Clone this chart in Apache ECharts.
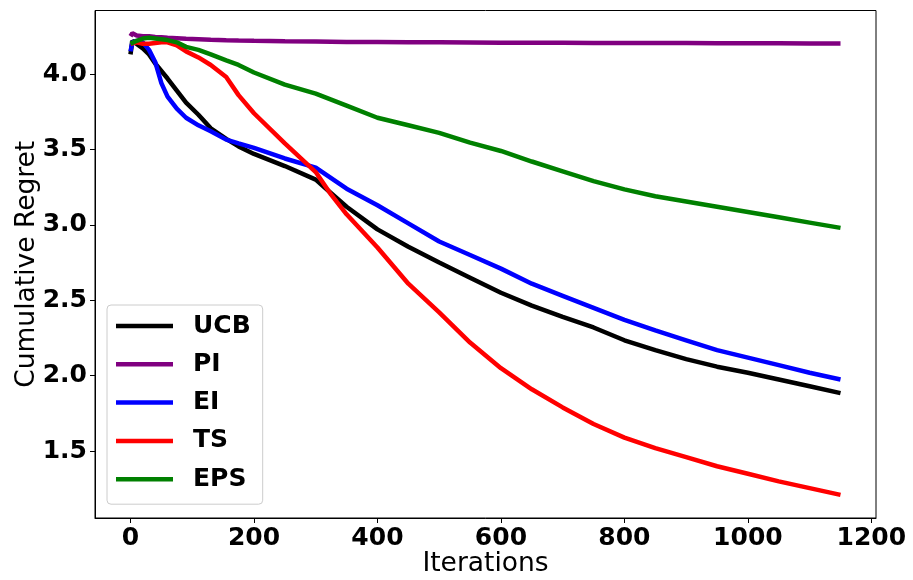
<!DOCTYPE html>
<html>
<head>
<meta charset="utf-8">
<script src="https://cdn.jsdelivr.net/npm/echarts@6/dist/echarts.min.js"></script>
<style>
html, body { margin: 0; padding: 0; background: #fff; }
#view { width: 913px; height: 580px; }
</style>
</head>
<body>
<div id="view"></div>
<script>
// iterations at which the curves were read
var iterations = [0, 3, 10, 20, 30, 40, 50, 60, 75, 90, 110, 130, 155, 175, 200, 250, 300, 325, 350,
    400, 450, 500, 550, 600, 650, 700, 750, 800, 850, 900, 950, 1000, 1050, 1100, 1150];

var ucb = [4.13, 4.22, 4.20, 4.17, 4.13, 4.07, 4.02, 3.97, 3.89, 3.81, 3.73, 3.64, 3.57, 3.52, 3.47, 3.39, 3.30, 3.21, 3.12,
    2.97, 2.855, 2.75, 2.65, 2.55, 2.465, 2.39, 2.32, 2.235, 2.17, 2.11, 2.06, 2.02, 1.975, 1.93, 1.885];
var pi = [4.25, 4.27, 4.255, 4.25, 4.25, 4.245, 4.243, 4.24, 4.237, 4.233, 4.23, 4.227, 4.224, 4.222, 4.22, 4.217, 4.215, 4.214, 4.213,
    4.212, 4.211, 4.21, 4.209, 4.208, 4.207, 4.207, 4.206, 4.206, 4.205, 4.205, 4.204, 4.204, 4.204, 4.203, 4.203];
var ei = [4.15, 4.21, 4.22, 4.21, 4.16, 4.08, 3.94, 3.85, 3.77, 3.71, 3.66, 3.62, 3.565, 3.54, 3.51, 3.44, 3.38, 3.31, 3.24,
    3.13, 3.01, 2.89, 2.80, 2.71, 2.61, 2.53, 2.45, 2.37, 2.30, 2.235, 2.17, 2.12, 2.07, 2.02, 1.975];
var ts = [4.20, 4.21, 4.21, 4.20, 4.20, 4.205, 4.21, 4.21, 4.19, 4.15, 4.11, 4.06, 3.98, 3.86, 3.74, 3.54, 3.35, 3.20, 3.07,
    2.85, 2.61, 2.42, 2.22, 2.05, 1.91, 1.79, 1.68, 1.59, 1.52, 1.46, 1.40, 1.35, 1.30, 1.255, 1.21];
var eps = [4.20, 4.21, 4.22, 4.235, 4.24, 4.235, 4.23, 4.225, 4.21, 4.18, 4.16, 4.13, 4.09, 4.06, 4.01, 3.93, 3.87, 3.83, 3.79,
    3.71, 3.66, 3.61, 3.545, 3.49, 3.42, 3.355, 3.29, 3.235, 3.19, 3.155, 3.12, 3.085, 3.05, 3.015, 2.98];

var names = ['UCB', 'PI', 'EI', 'TS', 'EPS'];
var colors = ['#000000', '#800080', '#0000ff', '#ff0000', '#008000'];
var values = [ucb, pi, ei, ts, eps];

var xTicks = [0, 200, 400, 600, 800, 1000, 1200];
var yTicks = [1.5, 2.0, 2.5, 3.0, 3.5, 4.0];

var FONT = 'DejaVu Sans';

function pairs(ys) {
    return iterations.map(function (x, i) { return [x, ys[i]]; });
}

var myChart = echarts.init(document.getElementById('view'));
var option = {
    animation: false,
    backgroundColor: '#fff',
    grid: {
        left: 95, top: 10.5, right: 37, bottom: 62,
        outerBoundsMode: 'none', containLabel: false,
        show: true, borderColor: '#000', borderWidth: 1
    },
    legend: {
        orient: 'vertical',
        left: 107, top: 305,
        data: names.map(function (n) { return { name: n, icon: 'rect' }; }),
        backgroundColor: 'rgba(255,255,255,0.8)',
        borderColor: '#cccccc', borderWidth: 1, borderRadius: 4,
        padding: [6, 12, 10, 9],
        itemWidth: 57, itemHeight: 4.5, itemGap: 8.3,
        textStyle: { fontFamily: FONT, fontSize: 25, fontWeight: 'bold', color: '#000', lineHeight: 30, padding: [0, 0, 0, 15] }
    },
    xAxis: {
        type: 'value',
        min: -57.5, max: 1207.5,
        name: 'Iterations', nameLocation: 'middle', nameGap: 33, nameMoveOverlap: false,
        nameTextStyle: { fontFamily: FONT, fontSize: 26.5, color: '#000' },
        axisLine: { show: true, onZero: false, lineStyle: { color: '#000', width: 1 } },
        axisTick: { show: true, length: 5, customValues: xTicks, lineStyle: { color: '#000' } },
        axisLabel: {
            customValues: xTicks, margin: 8, fontFamily: FONT, fontSize: 25, fontWeight: 'bold', color: '#000',
            formatter: function (v) { return String(v); }
        },
        splitLine: { show: false }
    },
    yAxis: {
        type: 'value',
        min: 1.057, max: 4.421,
        name: 'Cumulative Regret', nameLocation: 'middle', nameGap: 54, nameMoveOverlap: false,
        nameTextStyle: { fontFamily: FONT, fontSize: 26.5, color: '#000' },
        axisLine: { show: true, onZero: false, lineStyle: { color: '#000', width: 1 } },
        axisTick: { show: true, length: 5, customValues: yTicks, lineStyle: { color: '#000' } },
        axisLabel: {
            customValues: yTicks, margin: 8, fontFamily: FONT, fontSize: 25, fontWeight: 'bold', color: '#000',
            formatter: function (v) { return v.toFixed(1); }
        },
        splitLine: { show: false }
    },
    series: names.map(function (n, i) {
        return {
            name: n,
            type: 'line',
            data: pairs(values[i]),
            symbol: 'none',
            color: colors[i],
            lineStyle: { color: colors[i], width: 4.5 }
        };
    })
};
myChart.setOption(option);
</script>
</body>
</html>
